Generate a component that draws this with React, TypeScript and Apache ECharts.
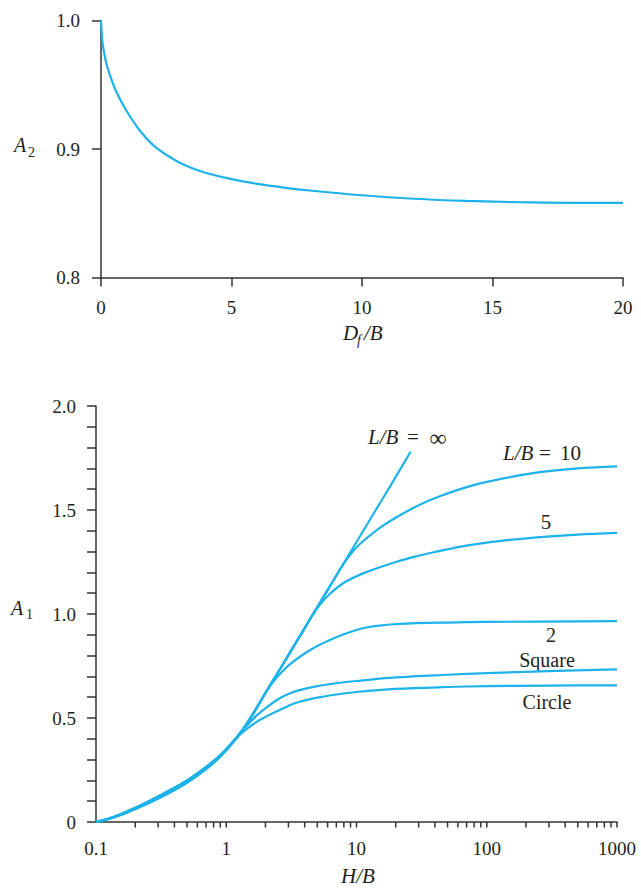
import React, { useEffect, useRef } from "react";
import * as echarts from "echarts";

// ---------- Top chart: A2 vs Df/B ----------
const dfB = [0, 0.05, 0.1, 0.2, 0.35, 0.6, 1.0, 1.5, 2.0, 2.5, 3.0, 3.5, 4.0, 5.0, 6.0, 7.0, 8.0, 10, 12, 14, 16, 18, 20];
const a2 = [1.0, 0.984, 0.977, 0.967, 0.957, 0.944, 0.929, 0.914, 0.903, 0.8955, 0.8895, 0.885, 0.8815, 0.8765, 0.8728, 0.870, 0.8677, 0.864, 0.8613, 0.8596, 0.8586, 0.8581, 0.858];
const topXTicks = [0, 5, 10, 15, 20];
const topYTicks = [0.8, 0.9, 1.0];

// ---------- Bottom chart: A1 vs H/B (log) ----------
const hbInf = [0.1, 0.13, 0.16, 0.2, 0.25, 0.35, 0.5, 0.7, 0.9, 1.2, 1.5, 2, 2.5, 3, 4, 5, 7, 10, 15, 20, 26];
const a1Inf = [0, 0.018, 0.038, 0.063, 0.09, 0.135, 0.19, 0.255, 0.315, 0.405, 0.49, 0.62, 0.72, 0.802, 0.932, 1.033, 1.185, 1.346, 1.529, 1.659, 1.78];

const hb10 = [0.1, 0.13, 0.16, 0.2, 0.25, 0.35, 0.5, 0.7, 0.9, 1.2, 1.5, 2, 2.5, 3, 4, 5, 7, 8, 9.5, 11, 15, 20, 30, 43, 70, 100, 214, 500, 1000];
const a1L10 = [0, 0.018, 0.038, 0.063, 0.09, 0.135, 0.19, 0.255, 0.315, 0.405, 0.49, 0.62, 0.72, 0.802, 0.932, 1.033, 1.185, 1.243, 1.305, 1.345, 1.413, 1.463, 1.523, 1.565, 1.61, 1.635, 1.675, 1.70, 1.71];

const hb5 = [0.1, 0.13, 0.16, 0.2, 0.25, 0.35, 0.5, 0.7, 0.9, 1.2, 1.5, 2, 2.5, 3, 4, 4.7, 5.4, 6.2, 8, 11, 20, 30, 40, 65, 100, 150, 256, 500, 1000];
const a1L5 = [0, 0.018, 0.038, 0.063, 0.09, 0.135, 0.19, 0.255, 0.315, 0.405, 0.49, 0.62, 0.72, 0.802, 0.932, 1.005, 1.055, 1.095, 1.15, 1.193, 1.25, 1.28, 1.298, 1.325, 1.343, 1.356, 1.37, 1.382, 1.39];

const hb2 = [0.1, 0.13, 0.16, 0.2, 0.25, 0.35, 0.5, 0.7, 0.9, 1.2, 1.5, 1.8, 2.1, 2.5, 3, 4, 5, 6.5, 8, 10, 12, 15, 21, 50, 100, 1000];
const a1L2 = [0, 0.018, 0.038, 0.063, 0.09, 0.135, 0.19, 0.255, 0.315, 0.405, 0.49, 0.572, 0.642, 0.702, 0.752, 0.81, 0.846, 0.88, 0.903, 0.923, 0.935, 0.944, 0.952, 0.959, 0.962, 0.966];

const hbSq = [0.1, 0.13, 0.16, 0.2, 0.25, 0.35, 0.5, 0.7, 0.9, 1.2, 1.4, 1.7, 2.03, 2.5, 3, 3.6, 5, 7, 10, 20, 50, 100, 300, 1000];
const a1Sq = [0, 0.02, 0.042, 0.068, 0.097, 0.145, 0.2, 0.265, 0.322, 0.405, 0.455, 0.51, 0.55, 0.59, 0.615, 0.633, 0.653, 0.667, 0.678, 0.695, 0.708, 0.716, 0.725, 0.734];

const hbCi = [0.1, 0.13, 0.16, 0.2, 0.25, 0.35, 0.5, 0.7, 0.9, 1.2, 1.4, 1.7, 2.03, 2.5, 3, 3.6, 5, 7, 10, 20, 50, 100, 300, 1000];
const a1Ci = [0, 0.02, 0.042, 0.068, 0.097, 0.145, 0.2, 0.265, 0.322, 0.405, 0.442, 0.48, 0.507, 0.535, 0.558, 0.577, 0.598, 0.613, 0.625, 0.64, 0.649, 0.653, 0.656, 0.657];

const logTickValues = [
  0.2, 0.3, 0.4, 0.5, 0.6, 0.7, 0.8, 0.9, 1,
  2, 3, 4, 5, 6, 7, 8, 9, 10,
  20, 30, 40, 50, 60, 70, 80, 90, 100,
  200, 300, 400, 500, 600, 700, 800, 900, 1000,
];
const bottomXLabels = ["0.1", "1", "10", "100", "1000"];

const CURVE = "#1DB3EA";
const AXIS = "#333333";
const TXT = "#231f20";
const SERIF = "'Liberation Serif', 'Times New Roman', serif";

const zip = (xs: number[], ys: number[]) => xs.map((x, i) => [x, ys[i]]);

export default function App() {
  const ref = useRef<HTMLDivElement>(null);

  useEffect(() => {
    if (!ref.current) return;
    const chart = echarts.init(ref.current, undefined, { renderer: "svg" });

    const lineSeries = (name: string, xs: number[], ys: number[], xi: number) => ({
      name,
      type: "line",
      xAxisIndex: xi,
      yAxisIndex: xi,
      data: zip(xs, ys),
      smooth: 0.35,
      symbol: "none",
      lineStyle: { color: CURVE, width: 2.2 },
      z: 3,
    });

    const txt = (text: string, x: number, y: number, size: number, opts: any = {}) => ({
      type: "text",
      x,
      y,
      style: {
        text,
        fill: TXT,
        fontFamily: SERIF,
        fontSize: size,
        fontStyle: opts.italic ? "italic" : "normal",
        textAlign: opts.align || "left",
        textVerticalAlign: "middle",
      },
    });

    const option: any = {
      animation: false,
      backgroundColor: "#ffffff",
      grid: [
        { left: 101, top: 20.5, width: 522, height: 257 },
        { left: 96, top: 406, width: 521, height: 416 },
      ],
      xAxis: [
        {
          gridIndex: 0,
          type: "value",
          min: topXTicks[0],
          max: topXTicks[topXTicks.length - 1],
          interval: 5,
          axisLine: { show: true, lineStyle: { color: AXIS, width: 1.5 } },
          axisTick: { show: true, inside: false, length: 9, lineStyle: { color: AXIS, width: 1.5 } },
          axisLabel: { margin: 20, fontFamily: SERIF, fontSize: 19, color: TXT },
          splitLine: { show: false },
        },
        {
          gridIndex: 1,
          type: "log",
          logBase: 10,
          min: 0.1,
          max: 1000,
          axisLine: { show: true, lineStyle: { color: AXIS, width: 1.5 } },
          axisTick: { show: false },
          axisLabel: {
            margin: 17,
            fontFamily: SERIF,
            fontSize: 19,
            color: TXT,
            formatter: (v: number) => {
              const idx = Math.round(Math.log10(v)) + 1;
              return bottomXLabels[idx] ?? "";
            },
          },
          splitLine: { show: false },
          minorTick: { show: false },
        },
      ],
      yAxis: [
        {
          gridIndex: 0,
          type: "value",
          min: topYTicks[0],
          max: topYTicks[topYTicks.length - 1],
          interval: 0.1,
          axisLine: { show: true, lineStyle: { color: AXIS, width: 1.5 } },
          axisTick: { show: true, inside: false, length: 9, lineStyle: { color: AXIS, width: 1.5 } },
          axisLabel: {
            margin: 21,
            fontFamily: SERIF,
            fontSize: 19,
            color: TXT,
            formatter: (v: number) => v.toFixed(1),
          },
          splitLine: { show: false },
        },
        {
          gridIndex: 1,
          type: "value",
          min: 0,
          max: 2,
          interval: 0.5,
          axisLine: { show: true, lineStyle: { color: AXIS, width: 1.5 } },
          axisTick: { show: true, inside: false, length: 9, lineStyle: { color: AXIS, width: 1.5 } },
          minorTick: { show: true, splitNumber: 5, length: 9, lineStyle: { color: AXIS, width: 1.5 } },
          axisLabel: {
            margin: 20,
            fontFamily: SERIF,
            fontSize: 19,
            color: TXT,
            formatter: (v: number) => (v === 0 ? "0" : v.toFixed(1)),
          },
          splitLine: { show: false },
          minorSplitLine: { show: false },
        },
      ],
      series: [
        lineSeries("A2", dfB, a2, 0),
        lineSeries("L/B=inf", hbInf, a1Inf, 1),
        lineSeries("L/B=10", hb10, a1L10, 1),
        lineSeries("L/B=5", hb5, a1L5, 1),
        lineSeries("L/B=2", hb2, a1L2, 1),
        lineSeries("Square", hbSq, a1Sq, 1),
        lineSeries("Circle", hbCi, a1Ci, 1),
        {
          name: "logTicks",
          type: "custom",
          xAxisIndex: 1,
          yAxisIndex: 1,
          clip: false,
          silent: true,
          data: logTickValues.map((v) => [v, 0]),
          renderItem: (params: any, api: any) => {
            const p = api.coord([api.value(0), 0]);
            return {
              type: "line",
              shape: { x1: p[0], y1: p[1], x2: p[0], y2: p[1] + 5.5 },
              style: { stroke: AXIS, lineWidth: 1.5 },
            };
          },
          z: 4,
        },
      ],
      graphic: [
        // top axis names
        txt("A", 14, 145, 20, { italic: true }),
        txt("2", 28, 152, 14),
        txt("D", 343, 333, 21, { italic: true }),
        txt("f", 357, 340, 14, { italic: true }),
        txt("/B", 364, 333, 21, { italic: true }),
        // bottom axis names
        txt("A", 11, 608, 20, { italic: true }),
        txt("1", 26, 614, 14),
        txt("H/B", 358, 876, 21, { italic: true, align: "center" }),
        // annotations
        txt("L/B", 368, 437, 21, { italic: true }),
        txt("=", 413, 437, 21, { align: "center" }),
        txt("\u221E", 438, 438, 24, { align: "center" }),
        txt("L/B", 503, 453, 21, { italic: true }),
        txt("=", 545, 453, 21, { align: "center" }),
        txt("10", 560, 453, 21),
        txt("5", 546, 522, 21, { align: "center" }),
        txt("2", 551, 635, 20, { align: "center" }),
        txt("Square", 547, 660, 20, { align: "center" }),
        txt("Circle", 547, 702, 20, { align: "center" }),
      ],
    };

    chart.setOption(option);
    return () => chart.dispose();
  }, []);

  return (
    <div
      ref={ref}
      style={{ position: "absolute", left: 0, top: 0, width: 641, height: 893, background: "#fff" }}
    />
  );
}
